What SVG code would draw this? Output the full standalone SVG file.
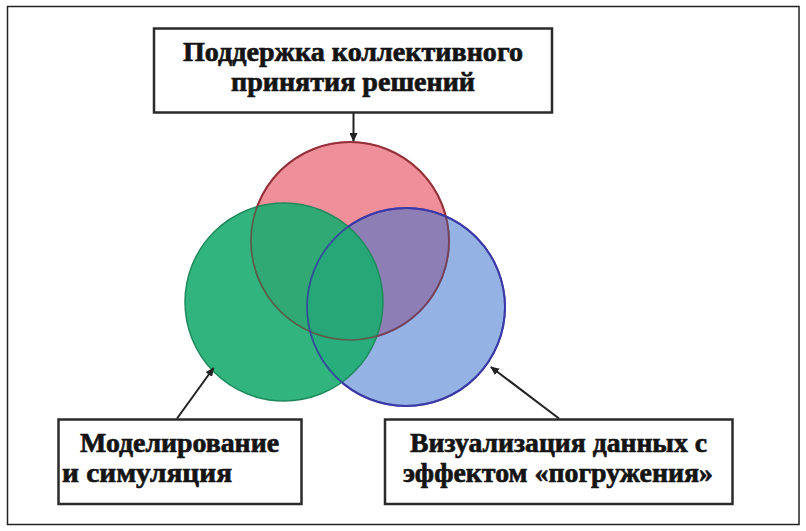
<svg xmlns="http://www.w3.org/2000/svg" width="806" height="531" viewBox="0 0 806 531">
  <style>
    .box { fill: #ffffff; stroke: #2b2b2b; stroke-width: 2.5; }
    .lbl { font-family: "Liberation Serif", "DejaVu Serif", "Times New Roman", serif; font-weight: bold; font-size: 28px; fill: #141414; stroke: #141414; stroke-width: 0.7; }
    .conn { stroke: #222222; stroke-width: 2; fill: none; marker-end: url(#arr); }
  </style>
  <defs>
    <marker id="arr" markerUnits="userSpaceOnUse" markerWidth="9" markerHeight="8" refX="8" refY="4" orient="auto">
      <path d="M0,0 L9,4 L0,8 z" fill="#222222"/>
    </marker>
  </defs>
  <rect x="0" y="0" width="806" height="531" fill="#ffffff"/>
  <rect x="7.5" y="6.5" width="791.5" height="518" fill="#ffffff" stroke="#222222" stroke-width="1.5"/>

  <g id="circle-decisions">
    <circle cx="350" cy="241" r="99" fill="#ef8f99" stroke="#b3283a" stroke-width="2"/>
  </g>
  <g id="circle-visualization">
    <circle cx="406" cy="307" r="99" fill="rgb(60,115,205)" fill-opacity="0.55" stroke="#3b3aa6" stroke-width="2"/>
  </g>
  <g id="circle-modeling">
    <circle cx="284" cy="302" r="99" fill="rgb(28,172,112)" fill-opacity="0.9" stroke="#1f8a5c" stroke-width="1.5"/>
  </g>
  <g id="circle-outlines" fill="none">
    <circle cx="350" cy="241" r="99" stroke="#7a3a3a" stroke-width="1.6" stroke-opacity="0.7"/>
    <circle cx="406" cy="307" r="99" stroke="#3b3aa6" stroke-width="1.8" stroke-opacity="0.8"/>
  </g>

  <g id="node-top">
    <rect class="box" x="154" y="28.5" width="398" height="84"/>
    <text class="lbl" x="183" y="61" textLength="340" lengthAdjust="spacingAndGlyphs">Поддержка коллективного</text>
    <text class="lbl" x="231" y="91" textLength="244" lengthAdjust="spacingAndGlyphs">принятия решений</text>
  </g>
  <g id="node-modeling">
    <rect class="box" x="58.5" y="419.5" width="243" height="84.5"/>
    <text class="lbl" x="80" y="452" textLength="199" lengthAdjust="spacingAndGlyphs">Моделирование</text>
    <text class="lbl" x="62" y="482" textLength="170" lengthAdjust="spacingAndGlyphs">и симуляция</text>
  </g>
  <g id="node-visualization">
    <rect class="box" x="385" y="419.5" width="347.5" height="84.5"/>
    <text class="lbl" x="410" y="452" textLength="297" lengthAdjust="spacingAndGlyphs">Визуализация данных с</text>
    <text class="lbl" x="403" y="482" textLength="310" lengthAdjust="spacingAndGlyphs">эффектом «погружения»</text>
  </g>

  <g id="connectors">
    <line class="conn" x1="353.5" y1="113" x2="353.5" y2="141"/>
    <line class="conn" x1="177" y1="418.5" x2="213.5" y2="368"/>
    <line class="conn" x1="559" y1="418.5" x2="491" y2="367"/>
  </g>
</svg>
